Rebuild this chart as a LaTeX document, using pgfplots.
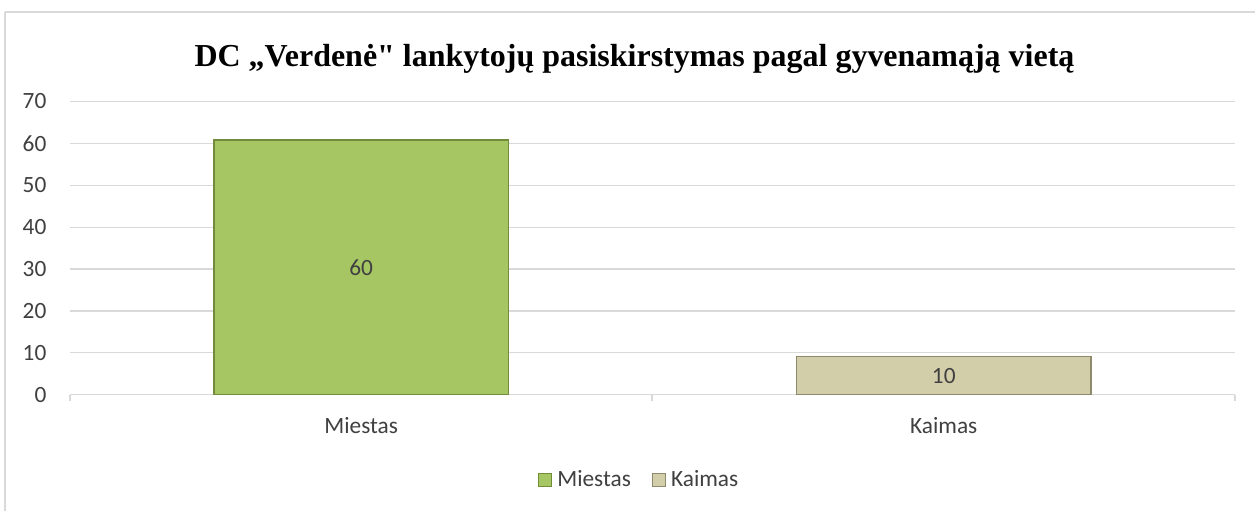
\documentclass[border=0pt]{standalone}
\usepackage{fontspec}
\setmainfont{Carlito}
\newfontfamily\titlefont{Liberation Serif}
\usepackage{pgfplots}
\pgfplotsset{compat=1.18}

\definecolor{gridc}{HTML}{D9D9D9}
\definecolor{frame}{HTML}{D9D9D9}
\definecolor{greenfill}{HTML}{A6C563}
\definecolor{greenedge}{HTML}{728C3C}
\definecolor{tanfill}{HTML}{D3CEAA}
\definecolor{tanedge}{HTML}{8F8A6C}
\definecolor{txt}{HTML}{404040}

\begin{document}
\begin{tikzpicture}[x=0.75pt,y=-0.75pt]
% page and chart frame (px coordinates)
\path[fill=white] (0,0) rectangle (1256,511);
\draw[frame,line width=1.5pt] (5.5,12.5) -- (1256,12.5);
\draw[frame,line width=1.5pt] (5.5,12.5) -- (5.5,511);
\node[font=\titlefont\bfseries\fontsize{24}{28}\selectfont,anchor=base] at (635,67)
  {DC „Verdenė" lankytojų pasiskirstymas pagal gyvenamąją vietą};

\begin{axis}[
  at={(52.5pt,-296.25pt)}, anchor=south west,
  scale only axis,
  width=874.5pt, height=220.1pt,
  xmin=-0.5, xmax=1.5,
  ymin=0, ymax=70,
  ytick={0,10,...,70},
  xtick={0,1},
  xticklabels={Miestas,Kaimas},
  major tick length=0pt,
  extra x ticks={-0.5,0.5,1.5},
  extra x tick labels={},
  extra x tick style={major tick length=5pt, tick align=outside, tick style={gridc, line width=1.5pt}},
  ymajorgrids,
  grid style={gridc, line width=0.9pt},
  axis x line*=bottom,
  axis y line*=left,
  x axis line style={gridc, line width=0.9pt, -},
  y axis line style={draw=none},
  /pgf/number format/assume math mode=true,
  ticklabel style={text=txt},
  yticklabel style={font=\fontsize{17.5}{20}\selectfont, anchor=east, inner sep=0pt, xshift=-17.5pt},
  xticklabel style={font=\fontsize{17.5}{20}\selectfont, anchor=north, inner sep=0pt, yshift=-17pt},
  ybar, bar width=221pt, bar shift=0pt,
  point meta=explicit symbolic,
  nodes near coords,
  visualization depends on={rawy \as \rawy},
  every node near coord/.append style={anchor=center, font=\fontsize{17.5}{20}\selectfont, text=txt,
    shift={(axis direction cs:0,-\rawy/2)}},
  legend columns=2,
  legend style={at={(0.489,-0.29)}, anchor=center, draw=none, fill=none,
    font=\fontsize{17.5}{20}\selectfont, text=txt,
    /tikz/every odd column/.append style={column sep=2pt},
    /tikz/every even column/.append style={column sep=14pt}},
  legend image code/.code={\draw[#1,line width=0.6pt] (0pt,-4.8pt) rectangle (9.6pt,4.8pt);},
]
\addplot[fill=greenfill, draw=greenedge, line width=0.8pt] coordinates {(0,60.8) [60]};
\addlegendentry{Miestas}
\addplot[fill=tanfill, draw=tanedge, line width=0.8pt] coordinates {(1,9.1) [10]};
\addlegendentry{Kaimas}
\end{axis}
\end{tikzpicture}
\end{document}
